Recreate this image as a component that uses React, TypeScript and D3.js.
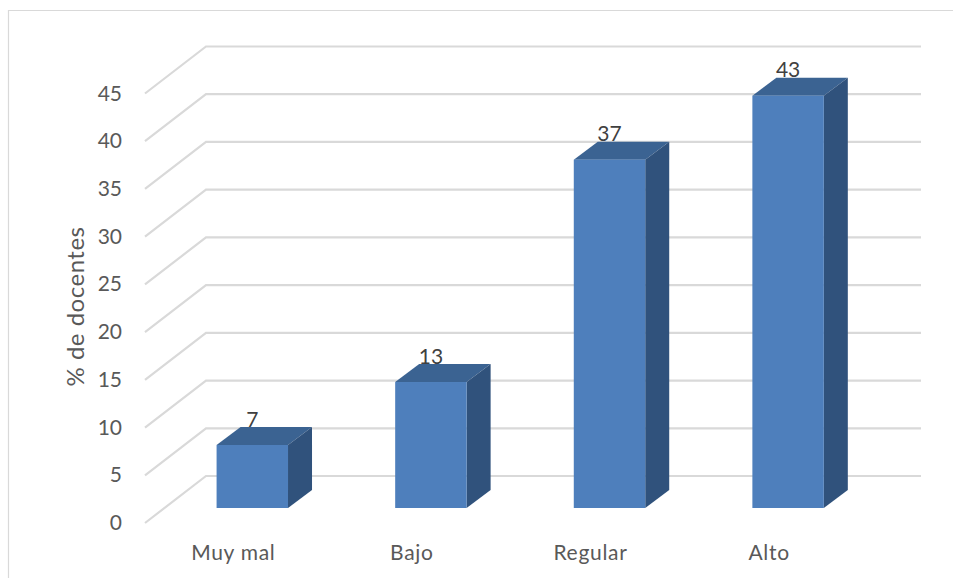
import React from "react";
import * as d3 from "d3";

const categories = ["Muy mal", "Bajo", "Regular", "Alto"];
const values = [6.6, 13.2, 36.5, 43.2];
const ticks = [0, 5, 10, 15, 20, 25, 30, 35, 40, 45];
const axisTitle = "% de docentes";

const FONT = "Lato, Carlito, 'Open Sans', sans-serif";
const W = 953, H = 578;
const y = d3.scaleLinear().domain([0, 45]).range([476, 46.5]);
const x = d3.scaleBand<string>().domain(categories).range([163, 877.4]).paddingInner(0.6).paddingOuter(0.3);
const backX0 = 206, backX1 = 921, frontX0 = 145, frontDy = 47;
const barDy = 32, depthX = 24, depthY = 18;
const label = d3.format(".0f");

export default function App() {
  return (
    <svg width={W} height={H} viewBox={`0 0 ${W} ${H}`} style={{ position: "absolute", left: 0, top: 0, background: "#fff" }} fontFamily={FONT}>
      <path d={`M8.5 578V10.5H953`} fill="none" stroke="#d9d9d9" strokeWidth={1.2} />
      {ticks.map((t) => {
        const yy = y(t);
        return (
          <g key={t}>
            <path d={`M${frontX0} ${yy + frontDy}L${backX0} ${yy}H${backX1}`} fill="none" stroke="#d9d9d9" strokeWidth={2.2} />
            <text x={122} y={yy + frontDy + 7} textAnchor="end" fontSize={21} fill="#595959">{t}</text>
          </g>
        );
      })}
      <text transform="translate(83.5,306.5) rotate(-90)" textAnchor="middle" fontSize={24} letterSpacing={0.5} fill="#595959">{axisTitle}</text>
      {categories.map((c, i) => {
        const x0 = x(c)!, x1 = x0 + x.bandwidth();
        const yb = y(0) + barDy, yt = y(values[i]) + barDy;
        return (
          <g key={c}>
            <path d={`M${x0} ${yt}L${x0 + depthX} ${yt - depthY}H${x1 + depthX}L${x1} ${yt}Z`} fill="#3b6392" />
            <path d={`M${x1} ${yt}L${x1 + depthX} ${yt - depthY}V${yb - depthY}L${x1} ${yb}Z`} fill="#30527c" />
            <rect x={x0} y={yt} width={x.bandwidth()} height={yb - yt} fill="#4e7fbc" />
            <text x={x0 + x.bandwidth() / 2} y={yt - 18.5} textAnchor="middle" fontSize={21} fill="#404040">{label(values[i])}</text>
            <text x={x0 + x.bandwidth() / 2 - 19} y={560} textAnchor="middle" fontSize={21} letterSpacing={0.7} fill="#595959">{c}</text>
          </g>
        );
      })}
    </svg>
  );
}
